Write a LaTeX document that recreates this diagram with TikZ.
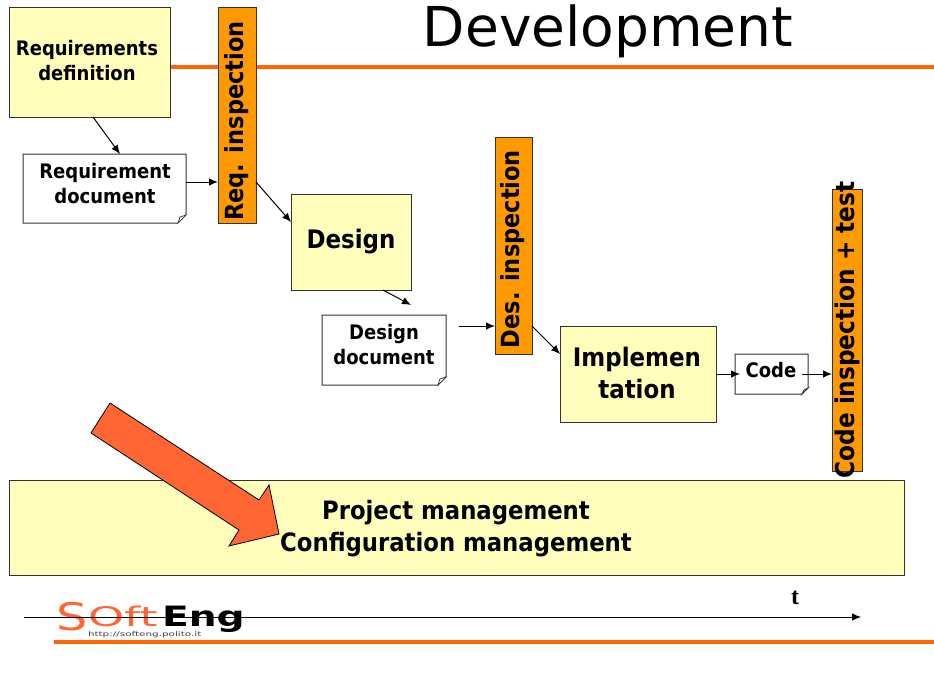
\documentclass[tikz,border=0pt]{standalone}
\usepackage{fontspec}
\setmainfont{DejaVu Sans}
\newfontfamily\fb{DejaVu Sans Condensed}[BoldFont={DejaVu Sans Condensed Bold}]
\newfontfamily\serifb{Liberation Serif}
\usetikzlibrary{calc,arrows.meta}
\definecolor{boxy}{HTML}{FFFFBB}
\definecolor{insp}{HTML}{FF9900}
\definecolor{rule}{HTML}{FF6600}
\definecolor{bigarrow}{HTML}{FF6633}
\tikzset{
  px/.style={x=1pt,y=-1pt},
  boxbase/.style={rectangle,inner sep=0pt,outer sep=0pt,align=center,text=black,line width=1pt},
  yellowbox/.style={boxbase,draw=black!80,fill=boxy},
  docanchor/.style={boxbase},
  inspbar/.style={boxbase,draw=black!80,fill=insp},
  linelabel/.style 2 args={inner sep=0pt,align=center,text=black,font=\fontsize{#1}{#2}\selectfont\fb\bfseries},
  insptext/.style={rotate=90,inner sep=0pt,text=black,font=\fontsize{#1}{#1}\selectfont\fb\bfseries},
  flow/.style={-{Latex[length=9pt,width=7.5pt]},line width=1pt,black},
  rulebar/.style={line width=3.6pt,rule},
  logopart/.style={inner sep=0pt,outer sep=0pt,anchor=base west,transform shape},
}
\newcommand{\docoutline}[2]{%
  \draw[line width=1pt,black!80,fill=white]
    (#1.north west) -- (#1.north east) -- ($(#1.south east)+(0,-#2)$)
    -- ($(#1.south east)+(-#2,0)$) -- (#1.south west) -- cycle;
  \draw[line width=0.7pt,black!80,fill=white]
    ($(#1.south east)+(0,-#2)$) -- ($(#1.south east)+(-#2,0)$) -- ($(#1.south east)+(-#2+2,-#2+2)$) -- cycle;
}
\begin{document}
\begin{tikzpicture}[px]
\useasboundingbox (0,0) rectangle (934,677);
% rules
\coordinate (topL) at (170,67);
\coordinate (topR) at (934,67);
\coordinate (botL) at (54,642);
\coordinate (botR) at (934,642);
\draw[rulebar] (topL) -- (topR);
\draw[rulebar] (botL) -- (botR);
\node[inner sep=0pt,font=\fontsize{55}{55}\selectfont] (title) at (608,31) {Development};
% shape outlines
\node[yellowbox,minimum width=161pt,minimum height=109pt] (rdef) at (89.5,62.5) {};
\node[docanchor,minimum width=163pt,minimum height=69pt] (rdoc) at (104.5,188.5) {};
\docoutline{rdoc}{8}
\node[inspbar,minimum width=38pt,minimum height=215pt] (rinsp) at (237,115.5) {};
\node[yellowbox,minimum width=120pt,minimum height=96pt] (des) at (351,242) {};
\node[docanchor,minimum width=124pt,minimum height=70pt] (ddoc) at (384,350) {};
\docoutline{ddoc}{8}
\node[inspbar,minimum width=37pt,minimum height=217pt] (dinsp) at (513.5,245.5) {};
\node[yellowbox,minimum width=156pt,minimum height=96pt] (impl) at (638,374) {};
\node[docanchor,minimum width=73pt,minimum height=40pt] (code) at (771.5,374) {};
\docoutline{code}{6}
\node[inspbar,minimum width=30pt,minimum height=282pt] (cinsp) at (847,330) {};
\node[yellowbox,minimum width=895pt,minimum height=95pt] (pm) at (456.5,527.5) {};
% texts
\node[linelabel={20}{25}] (rdeft) at (87,61) {Requirements\\definition};
\node[linelabel={20}{25}] (rdoct) at (105,184) {Requirement\\document};
\node[insptext=25] (rinspt) at (237,121) {Req. inspection};
\node[linelabel={25.5}{32}] (dest) at (351,242) {Design};
\node[linelabel={20}{25}] (ddoct) at (384,345) {Design\\document};
\node[insptext=25] (dinspt) at (513,249) {Des. inspection};
\node[linelabel={25.5}{32}] (implt) at (637,373) {Implemen\\tation};
\node[linelabel={20}{25}] (codet) at (771,370) {Code};
\node[insptext=25.8] (cinspt) at (847,330) {Code inspection + test};
\node[linelabel={25.3}{32}] (pmt) at (456,529) {Project management\\Configuration management};
% big arrow
\draw[line width=0.8pt,black,fill=bigarrow,line join=miter]
  (110,403) -- (259,500) -- (269,485) -- (279,534) -- (229,546) -- (239,530) -- (91,433) -- cycle;
% connectors
\coordinate (a1) at ($(rdef.south west)+(84,0)$);
\coordinate (a2) at ($(rdoc.north west)+(97,0)$);
\draw[flow] (a1) -- (a2);
\coordinate (b1) at ($(rdoc.north east)+(0,28)$);
\draw[flow] (b1) -- (b1-|rinsp.west);
\coordinate (c1) at ($(rinsp.south east)+(0,-41)$);
\coordinate (c2) at ($(des.north west)+(0,28)$);
\draw[flow] (c1) -- (c2);
\coordinate (d1) at ($(des.south west)+(92,0)$);
\coordinate (d2) at ($(des.south east)+(0,15)$);
\draw[flow] (d1) -- (d2);
\coordinate (e1) at ($(dinsp.south west)+(-36,-28)$);
\draw[flow] (e1) -- (e1-|dinsp.west);
\coordinate (f1) at ($(dinsp.south east)+(0,-28)$);
\coordinate (f2) at ($(impl.north west)+(0,28)$);
\draw[flow] (f1) -- (f2);
\coordinate (g2) at ($(code.west)+(5,0)$);
\draw[flow] (impl.east) -- (g2);
\coordinate (h1) at ($(code.east)+(-6,0)$);
\draw[flow] (h1) -- (h1-|cinsp.west);
% logo
\node[logopart,xscale=1.3,text=bigarrow,font=\fontsize{38}{38}\selectfont] (logoS) at (56,630) {S};
\node[logopart,xscale=1.7,text=bigarrow,font=\fontsize{27}{27}\selectfont] (logoO) at (88,626) {Oft};
\node[logopart,xscale=1.4,text=black,font=\fontsize{28}{28}\selectfont\bfseries] (logoE) at (162,626) {Eng};
\node[logopart,xscale=1.6,text=black!75,font=\fontsize{6.5}{6.5}\selectfont] (logoU) at (88,636) {http://softeng.polito.it};
% time axis
\coordinate (t0) at (24,617);
\coordinate (t1) at (861,617);
\draw[flow,line width=0.9pt] (t0) -- (t1);
\node[inner sep=0pt,font=\fontsize{24}{24}\selectfont\serifb\bfseries] (tlab) at (795,598) {t};
\end{tikzpicture}
\end{document}
